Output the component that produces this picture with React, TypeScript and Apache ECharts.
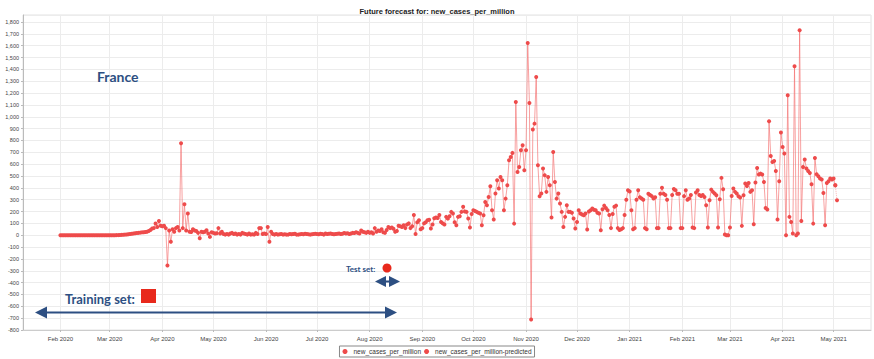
import React, { useEffect, useRef } from "react";
import * as echarts from "echarts";

// ---- data (new cases per million, France, daily) ----
const feb2020 = [0,0,0,0,0,0,0,0,0,0,0,0,0,0,0,0,0,0,0,0,0,0,0,0,0,0,0,0,0];
const mar2020 = [0,0,0,0,1,1,2,3,4,5,6,8,10,12,14,16,18,20,22,24,26,28,30,35,45,56,60,99,70,120,80];
const apr2020 = [75,80,60,-255,40,-55,50,30,60,70,40,776,60,262,40,183,30,28,50,40,35,20,-25,30,25,30,42,15,-14,25];
const may2020 = [20,15,17,60,15,30,10,5,10,5,15,20,10,15,5,10,5,20,15,10,5,15,5,8,5,20,10,60,60,10,15];
const jun2020 = [10,70,-55,30,10,5,10,5,8,10,5,8,5,5,10,8,10,12,5,5,8,10,8,12,10,8,5,8,10,12];
const jul2020 = [10,8,12,10,5,15,10,12,15,10,8,10,12,15,10,12,18,15,17,10,15,20,18,25,20,15,40,30,25,20,30];
const aug2020 = [20,25,15,60,30,40,35,50,25,20,45,70,60,65,55,30,35,80,75,70,85,60,90,100,60,75,170,10,110,127,50];
const sep2020 = [60,100,110,127,130,57,90,143,150,145,170,112,100,90,155,140,160,197,183,110,85,155,160,197,240,200,197,141,65,180];
const oct2020 = [211,205,197,190,183,85,169,281,253,323,414,211,132,352,464,394,492,464,211,309,422,633,661,695,98,1125,534,576,717,760,548];
const nov2020 = [717,1623,1116,-711,892,942,1336,591,329,352,563,506,366,492,422,149,703,450,309,352,267,197,70,155,253,197,197,190,141,57];
const dec2020 = [112,211,183,175,169,183,48,200,211,225,215,211,190,183,42,220,250,230,210,170,60,180,240,250,60,45,50,60,170,300,380];
const jan2021 = [370,210,50,60,300,380,320,310,300,60,50,350,340,330,310,320,60,60,350,400,350,340,300,60,60,340,390,380,350,350,60];
const feb2021 = [60,330,380,300,310,340,65,60,360,380,340,330,340,323,253,65,295,385,366,352,338,65,304,484,388,6,0,0];
const mar2021 = [65,332,394,366,352,329,318,79,338,436,416,441,366,380,93,445,568,512,520,512,450,230,217,962,669,619,627,543,132,456,867];
const apr2021 = [745,689,0,1181,155,112,14,1426,0,14,1730,121,576,639,563,543,526,430,98,652,515,498,478,470,357,85,441,456,478,470];
const may2021 = [478,422];
const actualStart = "2020-02-01";

const predictedDates = ["2021-05-02", "2021-05-03"];
const predictedValues = [422, 295];

const axisStart = "2020-01-10";
const axisEnd = "2021-05-23";
const monthNames = ["Jan","Feb","Mar","Apr","May","Jun","Jul","Aug","Sep","Oct","Nov","Dec"];

const DAY = 86400000;
const toStr = (t: number) => new Date(t).toISOString().slice(0, 10);
const parse = (s: string) => Date.parse(s + "T00:00:00Z");

function buildDates(): string[] {
  const out: string[] = [];
  for (let t = parse(axisStart); t <= parse(axisEnd); t += DAY) out.push(toStr(t));
  return out;
}

export default function App() {
  const ref = useRef<HTMLDivElement>(null);
  useEffect(() => {
    if (!ref.current) return;
    const chart = echarts.init(ref.current, undefined, { renderer: "svg" });
    const dates = buildDates();
    const actual = [
      ...feb2020, ...mar2020, ...apr2020, ...may2020, ...jun2020, ...jul2020, ...aug2020,
      ...sep2020, ...oct2020, ...nov2020, ...dec2020, ...jan2021, ...feb2021, ...mar2021,
      ...apr2021, ...may2021,
    ];
    const t0 = parse(actualStart);
    const actualData = actual.map((v, i) => [toStr(t0 + i * DAY), v]);
    const predData = predictedDates.map((d, i) => [d, predictedValues[i]]);
    const isMonthStart = (_i: number, v: string) => typeof v === "string" && v.endsWith("-01");
    const blue = "#2D4F82";
    const red = "#E8291C";
    const txt = (x: number, y: number, text: string, size: number) => ({
      type: "text", x, y, z: 100,
      style: { text, fill: blue, fontSize: size, fontWeight: "bold", fontFamily: "Lato", textVerticalAlign: "top" },
    });

    chart.setOption({
      animation: false,
      backgroundColor: "#fff",
      title: {
        text: "Future forecast for: new_cases_per_million",
        left: "center",
        top: 2,
        textStyle: { fontSize: 7.5, fontWeight: "bold", color: "#222", fontFamily: "Liberation Sans Narrow, Liberation Sans" },
      },
      legend: {
        bottom: 2,
        left: "center",
        itemWidth: 7,
        itemHeight: 5,
        itemGap: 3,
        icon: "circle",
        borderColor: "#888",
        borderWidth: 1,
        padding: [2, 3],
        textStyle: { fontSize: 6.5, color: "#333", fontFamily: "Liberation Sans" },
        data: ["new_cases_per_million", "new_cases_per_million-predicted"],
      },
      grid: {
        left: 23, right: 3, top: 15, bottom: 29,
        show: true, borderColor: "#e2e2e2", borderWidth: 1,
      },
      xAxis: {
        type: "category",
        data: dates,
        boundaryGap: false,
        axisLine: { onZero: false, lineStyle: { color: "#ccc" } },
        axisTick: { interval: isMonthStart, length: 2, lineStyle: { color: "#bbb" } },
        splitLine: { show: true, interval: isMonthStart, lineStyle: { color: "#ececec" } },
        axisLabel: {
          interval: isMonthStart,
          fontSize: 6,
          color: "#444",
          margin: 6,
          fontFamily: "Liberation Sans",
          formatter: (v: string) => `${monthNames[Number(v.slice(5, 7)) - 1]} ${v.slice(0, 4)}`,
        },
      },
      yAxis: {
        type: "value",
        min: -800,
        max: 1859,
        interval: 100,
        axisLine: { show: true, lineStyle: { color: "#bbb" } },
        axisTick: { show: true, length: 2, lineStyle: { color: "#bbb" } },
        splitLine: { show: true, lineStyle: { color: "#ececec" } },
        axisLabel: {
          fontSize: 5.5,
          color: "#444",
          margin: 4,
          showMaxLabel: false,
          fontFamily: "Liberation Sans",
          formatter: (v: number) => v.toLocaleString("en-US"),
        },
      },
      series: [
        {
          name: "new_cases_per_million",
          type: "line",
          data: actualData,
          symbol: "circle",
          symbolSize: 4,
          showSymbol: true,
          showAllSymbol: true,
          itemStyle: { color: "#EE4B4B" },
          lineStyle: { color: "rgba(245,110,110,0.65)", width: 1 },
          z: 3,
        },
        {
          name: "new_cases_per_million-predicted",
          type: "line",
          data: predData,
          symbol: "circle",
          symbolSize: 4,
          showAllSymbol: true,
          itemStyle: { color: "#EE4B4B" },
          lineStyle: { color: "rgba(245,110,110,0.5)", width: 1, type: "dotted" },
          z: 3,
        },
      ],
      graphic: [
        txt(97, 69, "France", 14),
        txt(346, 265, "Test set:", 8),
        { type: "circle", z: 100, shape: { cx: 387, cy: 268, r: 4.5 }, style: { fill: red } },
        { type: "polygon", z: 100, shape: { points: [[375, 281.5], [386, 276], [386, 287]] }, style: { fill: blue } },
        { type: "polygon", z: 100, shape: { points: [[400, 281.5], [389, 276], [389, 287]] }, style: { fill: blue } },
        { type: "line", z: 100, shape: { x1: 385, y1: 281.5, x2: 390, y2: 281.5 }, style: { stroke: blue, lineWidth: 2 } },
        txt(65, 292, "Training set:", 13),
        { type: "rect", z: 100, shape: { x: 141, y: 289, width: 15, height: 14 }, style: { fill: red } },
        { type: "line", z: 100, shape: { x1: 44, y1: 312.5, x2: 388, y2: 312.5 }, style: { stroke: blue, lineWidth: 2.2 } },
        { type: "polygon", z: 100, shape: { points: [[35, 312.5], [47, 306.5], [47, 318.5]] }, style: { fill: blue } },
        { type: "polygon", z: 100, shape: { points: [[397, 312.5], [385, 306.5], [385, 318.5]] }, style: { fill: blue } },
      ],
    });
    return () => chart.dispose();
  }, []);
  return (
    <div
      ref={ref}
      style={{ position: "absolute", left: 0, top: 0, width: 874, height: 359, background: "#fff" }}
    />
  );
}
